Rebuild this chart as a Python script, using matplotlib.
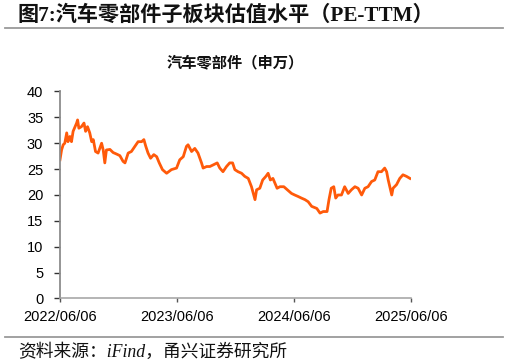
import matplotlib
matplotlib.use("Agg")
import matplotlib.pyplot as plt
from matplotlib.lines import Line2D
import pandas as pd

# ---- data ----
dates = [
    "2022-06-06", "2022-06-11", "2022-06-16", "2022-06-21", "2022-06-27", "2022-07-01",
    "2022-07-07", "2022-07-12", "2022-07-17", "2022-07-28", "2022-07-31", "2022-08-04",
    "2022-08-12", "2022-08-20", "2022-08-25", "2022-08-31", "2022-09-07", "2022-09-13",
    "2022-09-18", "2022-09-25", "2022-10-03", "2022-10-14", "2022-10-19", "2022-10-24",
    "2022-10-29", "2022-11-09", "2022-11-19", "2022-11-30", "2022-12-10", "2022-12-20",
    "2022-12-26", "2023-01-05", "2023-01-15", "2023-01-26", "2023-02-05", "2023-02-16",
    "2023-02-23", "2023-03-01", "2023-03-08", "2023-03-16", "2023-03-26", "2023-04-04",
    "2023-04-12", "2023-04-22", "2023-05-05", "2023-05-20", "2023-06-05", "2023-06-15",
    "2023-06-26", "2023-07-06", "2023-07-11", "2023-07-22", "2023-08-01", "2023-08-11",
    "2023-08-22", "2023-08-27", "2023-09-07", "2023-09-17", "2023-09-27", "2023-10-10",
    "2023-10-18", "2023-10-28", "2023-11-08", "2023-11-18", "2023-11-27", "2023-12-04",
    "2023-12-14", "2023-12-25", "2024-01-04", "2024-01-15", "2024-01-25", "2024-02-05",
    "2024-02-10", "2024-02-20", "2024-02-29", "2024-03-10", "2024-03-17", "2024-03-24",
    "2024-04-01", "2024-04-14", "2024-04-23", "2024-05-05", "2024-05-16", "2024-05-29",
    "2024-06-08", "2024-06-19", "2024-06-29", "2024-07-10", "2024-07-20", "2024-07-31",
    "2024-08-16", "2024-08-26", "2024-09-05", "2024-09-17", "2024-09-23", "2024-09-30",
    "2024-10-08", "2024-10-14", "2024-10-21", "2024-11-01", "2024-11-11", "2024-11-22",
    "2024-12-02", "2024-12-13", "2024-12-23", "2025-01-03", "2025-01-13", "2025-01-23",
    "2025-02-03", "2025-02-13", "2025-02-23", "2025-03-06", "2025-03-16", "2025-03-22",
    "2025-03-27", "2025-04-07", "2025-04-11", "2025-04-22", "2025-05-02", "2025-05-12",
    "2025-05-23", "2025-06-03",
]
pe_ttm = [
    26.8, 28.7, 29.7, 30.0, 32.0, 30.3,
    31.3, 30.3, 32.3, 33.9, 34.5, 32.9,
    33.2, 33.9, 32.3, 33.2, 32.0, 30.3,
    30.7, 28.4, 28.1, 30.0, 28.7, 26.2,
    28.7, 28.8, 28.2, 27.9, 27.6, 26.5,
    26.2, 28.1, 28.4, 29.4, 30.3, 30.3,
    30.7, 29.4, 28.1, 27.1, 27.8, 27.4,
    26.2, 24.9, 24.2, 24.9, 25.2, 26.8,
    27.4, 29.4, 29.7, 28.4, 29.0, 28.1,
    26.2, 25.2, 25.5, 25.5, 25.8, 26.2,
    25.2, 24.5, 25.5, 26.2, 26.2, 24.9,
    24.5, 24.2, 23.6, 23.2, 21.6, 19.1,
    21.0, 21.3, 22.9, 23.6, 24.2, 22.9,
    23.2, 21.3, 21.6, 21.6, 21.0, 20.3,
    20.0, 19.7, 19.4, 19.1, 18.7, 17.8,
    17.4, 16.5, 16.8, 16.8, 19.1, 21.3,
    21.6, 19.4, 20.0, 20.0, 21.6, 20.3,
    21.0, 21.6, 21.3, 20.0, 21.3, 21.6,
    22.6, 22.9, 24.5, 24.5, 25.2, 24.5,
    22.9, 20.0, 21.3, 22.0, 23.2, 23.9,
    23.6, 23.2,
]
x_ticks = ["2022/06/06", "2023/06/06", "2024/06/06", "2025/06/06"]
y_ticks = [0, 5, 10, 15, 20, 25, 30, 35, 40]

title = "图7:汽车零部件子板块估值水平（PE-TTM）"
subtitle = "汽车零部件（申万）"
source = "资料来源：iFind，甬兴证券研究所"

# ---- figure ----
fig = plt.figure(figsize=(5.10, 3.63), dpi=100)
ax = fig.add_axes([0.1176, 0.1777, 0.6882, 0.5703])

x = pd.to_datetime(dates)
ax.plot(x, pe_ttm, color="#FF5A0A", lw=2.0, solid_joinstyle="round")

xt = pd.to_datetime(x_ticks, format="%Y/%m/%d")
ax.set_xlim(xt[0], xt[-1])
ax.set_xticks(xt)
ax.set_xticklabels(x_ticks)
ax.set_ylim(0, 40)
ax.set_yticks(y_ticks)

for s in ["top", "right"]:
    ax.spines[s].set_visible(False)
ax.spines["left"].set_color("#8c8c8c")
ax.spines["left"].set_linewidth(1.3)
ax.spines["bottom"].set_color("#a0a0a0")
ax.spines["bottom"].set_linewidth(1.1)

ax.tick_params(axis="y", direction="out", length=4, width=1.0, color="#333333",
               pad=8, labelsize=10.5, labelcolor="black")
ax.tick_params(axis="x", direction="out", length=3, width=1.0, color="#555555",
               pad=5, labelsize=10.5, labelcolor="black")
for lab in ax.get_xticklabels() + ax.get_yticklabels():
    lab.set_fontfamily(["Liberation Sans", "DejaVu Sans"])

# titles and notes
fig.text(0.035, 0.958, title, fontsize=15.2, fontweight="bold",
         family=["Liberation Serif", "Noto Sans CJK SC"], ha="left", va="center",
         color="#111111")
fig.add_artist(Line2D([0.01, 0.986], [0.9215, 0.9215], transform=fig.transFigure,
                      color="#9a9a9a", lw=1.3))
fig.text(0.1176 + 0.6882 / 2, 0.829, subtitle, fontsize=11, fontweight="bold",
         family=["Noto Sans CJK SC"], ha="center", va="center", color="#111111")
fig.add_artist(Line2D([0.01, 0.986], [0.0725, 0.0725], transform=fig.transFigure,
                      color="#9a9a9a", lw=1.3))
fig.text(0.035, 0.031, source, fontsize=12.8, style="italic",
         family=["Liberation Serif", "Noto Sans CJK SC"], ha="left", va="center",
         color="#111111")

fig.savefig("out.png", dpi=100)
